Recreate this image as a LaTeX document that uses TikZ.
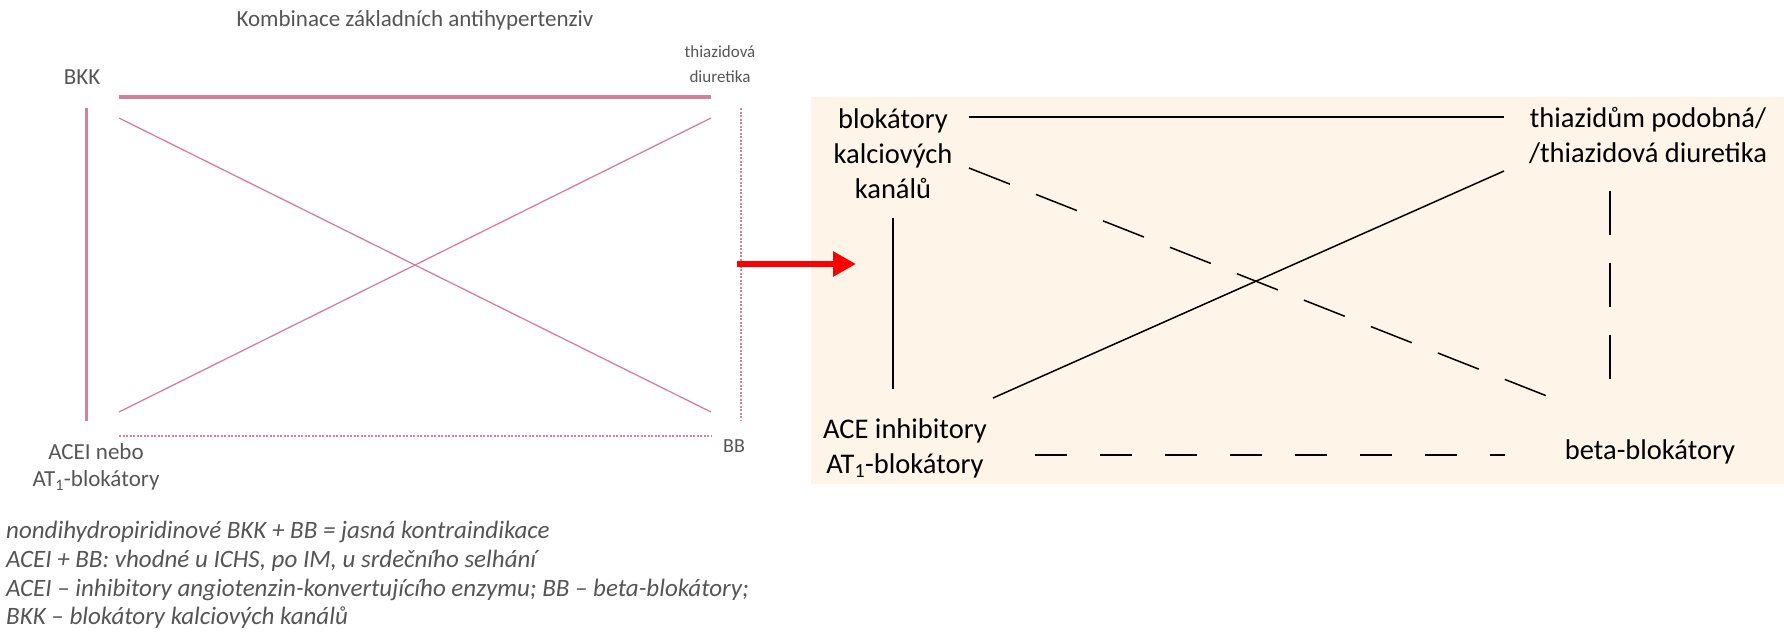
\documentclass[tikz,border=0pt]{standalone}
\usepackage{fontspec}
\setmainfont{Carlito}
\usetikzlibrary{arrows.meta}
\definecolor{pinkline}{HTML}{D3809A}
\definecolor{panelbg}{HTML}{FEF4E7}
\definecolor{greytext}{HTML}{555555}
\tikzset{
  lefttxt/.style={text=greytext, font=\fontsize{23}{27}\selectfont, inner sep=0pt},
  noteline/.style={text=greytext, font=\itshape\fontsize{25}{29}\selectfont, anchor=west, inner sep=0pt},
  righttxt/.style={text=black, font=\fontsize{28.5}{35}\selectfont, align=center, inner sep=0pt},
  pinkthick/.style={draw=pinkline, line width=4pt},
  pinkmid/.style={draw=pinkline, line width=3pt},
  pinkthin/.style={draw=pinkline, line width=1.3pt},
  pinkdot/.style={draw=pinkline, line width=1.3pt, dash pattern=on 2pt off 1.5pt},
  blk/.style={draw=black, line width=1.5pt},
  longdash/.style={draw=black, line width=1.5pt, dash pattern=on 44pt off 28pt},
  shortdash/.style={draw=black, line width=1.5pt, dash pattern=on 32pt off 33pt},
}
\begin{document}
\begin{tikzpicture}[x=1pt,y=-1pt]
\useasboundingbox (0,0) rectangle (1784,635);
\fill[panelbg] (811,97) rectangle (1784,484);

% ---- left diagram ----
\node[lefttxt] (title) at (415,20) {Kombinace základních antihypertenziv};
\node[lefttxt] (bkk) at (82,77) {BKK};
\node[lefttxt, align=center, font=\fontsize{17}{25}\selectfont] (thd) at (720,64) {thiazidová\\diuretika};
\node[lefttxt, align=center] (acei) at (96,467) {ACEI nebo\\AT\textsubscript{1}-blokátory};
\node[lefttxt, font=\fontsize{20}{24}\selectfont] (bb) at (734,446) {BB};

\coordinate (tl) at (119,97);
\coordinate (tr) at (711,97);
\coordinate (lvt) at (86,108);
\coordinate (lvb) at (86,421);
\coordinate (rvt) at (741,108);
\coordinate (rvb) at (741,421);
\coordinate (d1a) at (119,118);
\coordinate (d1b) at (711,412);
\coordinate (d2a) at (119,412);
\coordinate (d2b) at (711,118);
\coordinate (bl) at (119,436);
\coordinate (br) at (711,436);

\draw[pinkthick] (tl) -- (tr);
\draw[pinkmid] (lvt) -- (lvb);
\draw[pinkdot] (rvt) -- (rvb);
\draw[pinkthin] (d1a) -- (d1b);
\draw[pinkthin] (d2a) -- (d2b);
\draw[pinkdot] (bl) -- (br);

\node[noteline] (n1) at (6,532) {nondihydropiridinové BKK + BB = jasná kontraindikace};
\node[noteline] (n2) at (6,561) {ACEI + BB: vhodné u ICHS, po IM, u srdečního selhání};
\node[noteline] (n3) at (6,590) {ACEI – inhibitory angiotenzin-konvertujícího enzymu; BB – beta-blokátory;};
\node[noteline] (n4) at (6,618) {BKK – blokátory kalciových kanálů};

% ---- arrow ----
\coordinate (arA) at (737,264);
\coordinate (arB) at (856,264);
\draw[red, line width=6pt, -{Triangle[length=23pt,width=24pt]}] (arA) -- (arB);

% ---- right diagram ----
\node[righttxt] (bkc) at (893,154) {blokátory\\kalciových\\kanálů};
\node[righttxt] (thz) at (1648,136) {thiazidům podobná/\\/thiazidová diuretika};
\node[righttxt] (ace) at (905,448) {ACE inhibitory\\AT\textsubscript{1}-blokátory};
\node[righttxt] (beta) at (1650,452) {beta-blokátory};

\coordinate (r1a) at (969,117);
\coordinate (r1b) at (1504,117);
\coordinate (r2a) at (893,218);
\coordinate (r2b) at (893,389);
\coordinate (r3a) at (993,398);
\coordinate (r3b) at (1504,171);
\coordinate (r4a) at (969,168);
\coordinate (r4b) at (1557,400);
\coordinate (r5a) at (1610,191);
\coordinate (r5b) at (1610,398);
\coordinate (r6a) at (1035,455);
\coordinate (r6b) at (1505,455);

\draw[blk] (r1a) -- (r1b);
\draw[blk] (r2a) -- (r2b);
\draw[blk] (r3a) -- (r3b);
\draw[longdash] (r4a) -- (r4b);
\draw[longdash] (r5a) -- (r5b);
\draw[shortdash] (r6a) -- (r6b);
\end{tikzpicture}
\end{document}
